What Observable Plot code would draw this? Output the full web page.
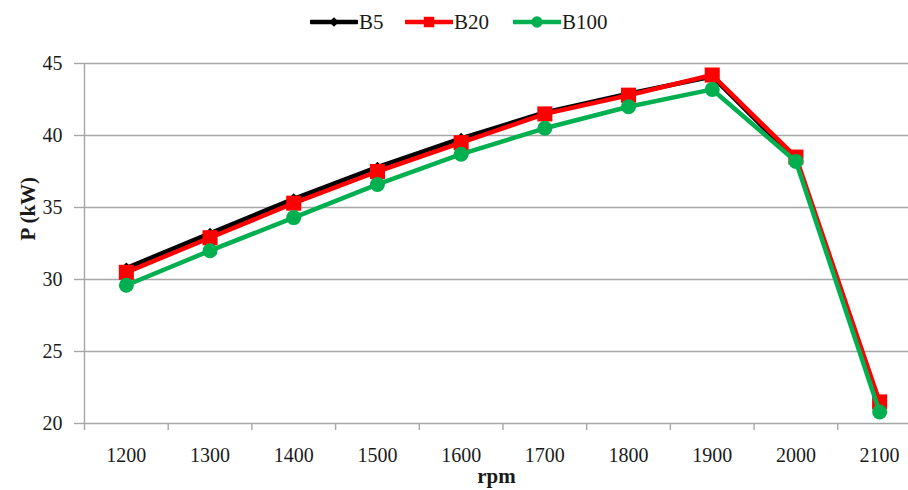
<!DOCTYPE html>
<html><head><meta charset="utf-8">
<script src="https://cdn.jsdelivr.net/npm/d3@7"></script>
<script src="https://cdn.jsdelivr.net/npm/@observablehq/plot@0.6"></script>
<style>
body{margin:0;background:#fff;font-family:"Liberation Serif","Times New Roman",serif;color:#1a1a1a;overflow:hidden;}
#legend{height:40px;position:relative;width:908px;}
#legend .item{position:absolute;top:10px;height:24px;display:flex;align-items:center;font-size:21px;}
#legend svg{display:block;}
</style></head><body>
<div id="legend"></div>
<div id="chart"></div>
<script>
const rpm = [1200, 1300, 1400, 1500, 1600, 1700, 1800, 1900, 2000, 2100];
const b5   = [30.8, 33.2, 35.6, 37.8, 39.8, 41.6, 42.9, 44.1, 38.3, 21.2];
const b20  = [30.5, 32.9, 35.3, 37.5, 39.5, 41.5, 42.8, 44.2, 38.5, 21.5];
const b100 = [29.6, 32.0, 34.3, 36.6, 38.7, 40.5, 42.0, 43.2, 38.2, 20.8];
const yTicks = [20, 25, 30, 35, 40, 45];
const seriesNames = ["B5", "B20", "B100"];

const series = [
  {name: "B5", values: b5, color: "#000000", symbol: "diamond2", r: 5},
  {name: "B20", values: b20, color: "#ff0000", symbol: "square", r: 8.5},
  {name: "B100", values: b100, color: "#00b050", symbol: "circle", r: 7.5}
];

// Legend
const legendPos = [310, 405, 513];
const legend = d3.select("#legend");
series.forEach((s, i) => {
  const item = legend.append("div").attr("class", "item").style("left", legendPos[i] + "px");
  const sv = item.append("svg").attr("width", 48).attr("height", 24);
  sv.append("line").attr("x1", 1).attr("x2", 47).attr("y1", 12).attr("y2", 12)
    .attr("stroke", s.color).attr("stroke-width", 4.5).attr("stroke-linecap", "round");
  const sym = {diamond2: d3.symbolDiamond2, square: d3.symbolSquare, circle: d3.symbolCircle}[s.symbol];
  const size = s.symbol === "square" ? 110 : s.symbol === "circle" ? 100 : 60;
  sv.append("path").attr("d", d3.symbol(sym, size)()).attr("transform", "translate(24,12)").attr("fill", s.color);
  item.append("span").text(s.name).style("margin-left", "1px");
});

const data = series.flatMap(s => rpm.map((x, i) => ({x, y: s.values[i], name: s.name})));
const boundaries = d3.range(1150, 2150, 100);

const marks = [
  Plot.gridY(yTicks.slice(1), {stroke: "#a6a6a6", strokeOpacity: 1, strokeWidth: 1.4}),
  Plot.ruleY([20], {stroke: "#a6a6a6", strokeWidth: 1.4}),
  Plot.ruleX([1150], {stroke: "#a6a6a6", strokeWidth: 1.4}),
  Plot.axisY({ticks: yTicks, tickSize: 10, tickPadding: 12, stroke: "#a6a6a6", strokeWidth: 1.4, label: null, fontSize: 20}),
  Plot.axisX({ticks: boundaries, tickSize: 7, tickFormat: () => "", stroke: "#a6a6a6", strokeWidth: 1.4, label: null}),
  Plot.axisX({ticks: rpm, tickSize: 0, tickPadding: 24, tickFormat: d => String(d), label: null, fontSize: 20}),
];
for (const s of series) {
  const d = data.filter(e => e.name === s.name);
  marks.push(Plot.line(d, {x: "x", y: "y", stroke: s.color, strokeWidth: 4.5}));
  marks.push(Plot.dot(d, {x: "x", y: "y", fill: s.color, stroke: "none", symbol: () => s.symbol, r: s.r}));
}
marks.push(Plot.text(["rpm"], {frameAnchor: "bottom", dy: 53, fontWeight: "bold", fontSize: 21, lineAnchor: "middle"}));
marks.push(Plot.text(["P (kW)"], {frameAnchor: "left", rotate: -90, dx: -56, dy: -3, fontWeight: "bold", fontSize: 21}));

const chart = Plot.plot({
  width: 908, height: 450,
  marginLeft: 84, marginRight: 0, marginTop: 23, marginBottom: 67,
  x: {type: "linear", domain: [1150, 2134.5]},
  y: {domain: [20, 45]},
  style: {fontFamily: "'Liberation Serif', 'Times New Roman', serif", color: "#1a1a1a", background: "#fff"},
  marks
});
document.getElementById("chart").append(chart);
</script>
</body></html>
